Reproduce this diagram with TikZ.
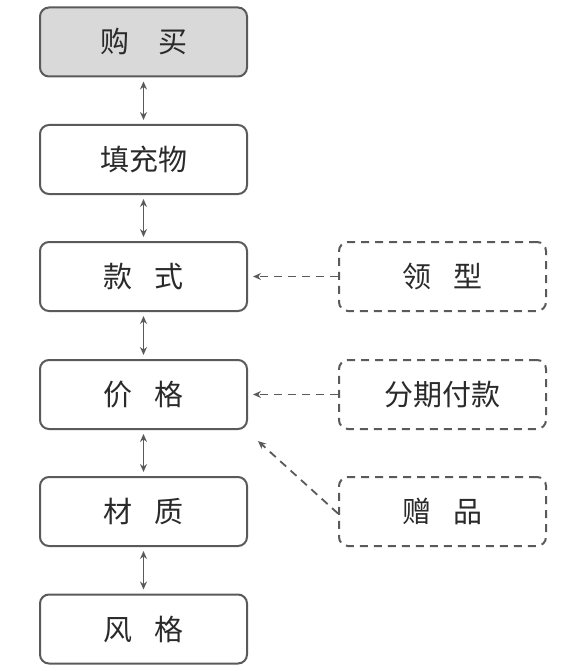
\documentclass[tikz,border=0pt]{standalone}
\usepackage{fontspec}
\setmainfont{Noto Sans CJK SC}
\usetikzlibrary{arrows.meta}
\definecolor{edge}{HTML}{5A5A5A}
\definecolor{ink}{HTML}{2A2A2A}
\definecolor{topfill}{HTML}{D9D9D9}
\tikzset{
  box/.style={draw=edge, line width=2pt, rounded corners=9pt, minimum width=207pt, minimum height=69pt,
    inner sep=0pt, text=ink, font=\fontsize{29}{32}\selectfont, fill=white},
  dbox/.style={box, dashed, dash pattern=on 8pt off 6pt},
  dbl/.style={draw=edge, line width=1.8pt, {Stealth[length=8pt,width=7pt]}-{Stealth[length=8pt,width=7pt]}},
  darr/.style={draw=edge, line width=1.8pt, dash pattern=on 8pt off 6pt, -{Stealth[length=8pt,width=7pt]}},
}
\newcommand{\gp}{\hspace{0.75em}}
\begin{document}
\begin{tikzpicture}[x=1pt,y=-1pt]
\useasboundingbox (0,0) rectangle (564,671);
\node[box, fill=topfill] (buy) at (143.5,42) {购\hspace{1em}买};
\node[box] (fill) at (143.5,159.5) {填充物};
\node[box] (style) at (143.5,276.5) {款\gp 式};
\node[box] (price) at (143.5,394.5) {价\gp 格};
\node[box] (mat) at (143.5,511.5) {材\gp 质};
\node[box] (look) at (143.5,629) {风\gp 格};
\node[dbox] (collar) at (442.5,276.5) {领\gp 型};
\node[dbox] (inst) at (442.5,394.5) {分期付款};
\node[dbox] (gift) at (442.5,511.5) {赠\gp 品};
\draw[dbl] ([yshift=-4pt]buy.south) -- ([yshift=4pt]fill.north);
\draw[dbl] ([yshift=-4pt]fill.south) -- ([yshift=4pt]style.north);
\draw[dbl] ([yshift=-4pt]style.south) -- ([yshift=4pt]price.north);
\draw[dbl] ([yshift=-4pt]price.south) -- ([yshift=4pt]mat.north);
\draw[dbl] ([yshift=-4pt]mat.south) -- ([yshift=4pt]look.north);
\draw[darr] (collar.west) -- ([xshift=5pt]style.east);
\draw[darr] (inst.west) -- ([xshift=5pt]price.east);
\coordinate (gs) at ([yshift=-2pt]gift.west);
\coordinate (ge) at ([shift={(10pt,-11pt)}]price.south east);
\draw[darr] (gs) -- (ge);
\end{tikzpicture}
\end{document}
